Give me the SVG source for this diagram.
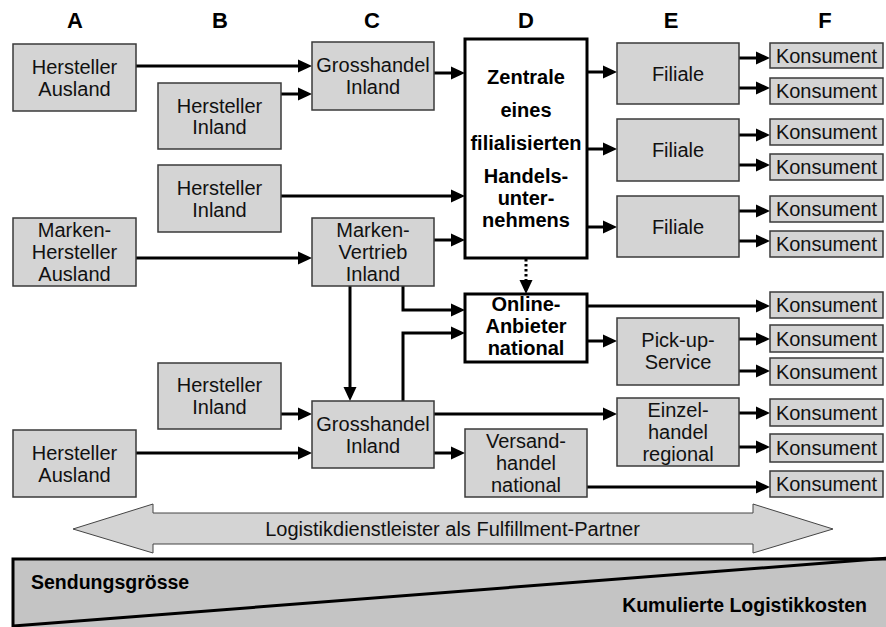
<svg xmlns="http://www.w3.org/2000/svg" width="886" height="627" viewBox="0 0 886 627">
<defs>
<style>
.box{fill:#d4d4d4;stroke:#3a3a3a;stroke-width:1.5}
.bold{fill:#fff;stroke:#000;stroke-width:3}
.t{font-family:"Liberation Sans",Arial,sans-serif;font-size:20px;text-anchor:middle;fill:#111}
.tb{font-family:"Liberation Sans",Arial,sans-serif;font-size:20px;font-weight:bold;text-anchor:middle;fill:#000}
.col{font-family:"Liberation Sans",Arial,sans-serif;font-size:22px;font-weight:bold;text-anchor:middle;fill:#000}
.c{fill:none;stroke:#000;stroke-width:3;marker-end:url(#ah)}
.d{fill:none;stroke:#000;stroke-width:3;stroke-dasharray:2.5 2.5;marker-end:url(#ah)}
.wt{font-family:"Liberation Sans",Arial,sans-serif;font-size:19.5px;font-weight:bold;fill:#000}
</style>
<marker id="ah" markerUnits="userSpaceOnUse" markerWidth="14" markerHeight="14" refX="10" refY="6.5" orient="auto" overflow="visible">
<path d="M0,0 L14,6.5 L0,13 z" fill="#000"/>
</marker>
</defs>
<rect width="886" height="627" fill="#fff"/>

<g id="column-labels">
<text class="col" x="75" y="28">A</text>
<text class="col" x="220" y="28">B</text>
<text class="col" x="372" y="28">C</text>
<text class="col" x="526" y="28">D</text>
<text class="col" x="671" y="28">E</text>
<text class="col" x="825" y="28">F</text>
</g>

<g id="connectors">
<path class="c" d="M136,66 H308"/>
<path class="c" d="M281,94 H308"/>
<path class="c" d="M434,73 H461"/>
<path class="c" d="M587,72 H613"/>
<path class="c" d="M587,149 H613"/>
<path class="c" d="M587,227 H613"/>
<path class="c" d="M739,58 H766"/>
<path class="c" d="M739,88 H766"/>
<path class="c" d="M739,135 H766"/>
<path class="c" d="M739,165 H766"/>
<path class="c" d="M739,211 H766"/>
<path class="c" d="M739,241 H766"/>
<path class="c" d="M281,196 H461"/>
<path class="c" d="M136,258 H308"/>
<path class="c" d="M434,240 H461"/>
<path class="d" d="M526,259 V290"/>
<path class="c" d="M403,286 V310 H461"/>
<path class="c" d="M350,286 V397"/>
<path class="c" d="M403,401 V333 H461"/>
<path class="c" d="M587,306 H766"/>
<path class="c" d="M587,341 H613"/>
<path class="c" d="M739,339 H766"/>
<path class="c" d="M739,371 H766"/>
<path class="c" d="M434,414 H613"/>
<path class="c" d="M739,413 H766"/>
<path class="c" d="M739,447 H766"/>
<path class="c" d="M281,414 H308"/>
<path class="c" d="M136,453 H308"/>
<path class="c" d="M434,453 H461"/>
<path class="c" d="M587,487 H766"/>
</g>

<g id="hersteller-ausland-1"><rect class="box" x="13" y="44" width="123" height="67"/>
<text class="t" x="74.5" y="73.5">Hersteller</text><text class="t" x="74.5" y="95.5">Ausland</text></g>
<g id="hersteller-inland-1"><rect class="box" x="158" y="83" width="123" height="66"/>
<text class="t" x="219.5" y="112.5">Hersteller</text><text class="t" x="219.5" y="134">Inland</text></g>
<g id="grosshandel-inland-1"><rect class="box" x="312" y="42" width="122" height="68"/>
<text class="t" x="373" y="72">Grosshandel</text><text class="t" x="373" y="94">Inland</text></g>
<g id="zentrale"><rect class="bold" x="465" y="39" width="122" height="219"/>
<text class="tb" x="526" y="84">Zentrale</text>
<text class="tb" x="526" y="117">eines</text>
<text class="tb" x="526" y="150">filialisierten</text>
<text class="tb" x="526" y="183">Handels-</text>
<text class="tb" x="526" y="205">unter-</text>
<text class="tb" x="526" y="227">nehmens</text></g>
<g id="filiale-1"><rect class="box" x="617" y="43" width="122" height="61"/><text class="t" x="678" y="80.5">Filiale</text></g>
<g id="filiale-2"><rect class="box" x="617" y="119" width="122" height="62"/><text class="t" x="678" y="157">Filiale</text></g>
<g id="filiale-3"><rect class="box" x="617" y="196" width="122" height="61"/><text class="t" x="678" y="233.5">Filiale</text></g>

<g id="konsument-1"><rect class="box" x="770" y="43" width="113" height="25"/><text class="t" x="826.5" y="62.5">Konsument</text></g>
<g id="konsument-2"><rect class="box" x="770" y="78" width="113" height="26"/><text class="t" x="826.5" y="98">Konsument</text></g>
<g id="konsument-3"><rect class="box" x="770" y="119" width="113" height="26"/><text class="t" x="826.5" y="139">Konsument</text></g>
<g id="konsument-4"><rect class="box" x="770" y="154" width="113" height="26"/><text class="t" x="826.5" y="174">Konsument</text></g>
<g id="konsument-5"><rect class="box" x="770" y="196" width="113" height="26"/><text class="t" x="826.5" y="216">Konsument</text></g>
<g id="konsument-6"><rect class="box" x="770" y="231" width="113" height="26"/><text class="t" x="826.5" y="251">Konsument</text></g>
<g id="konsument-7"><rect class="box" x="770" y="292" width="113" height="26"/><text class="t" x="826.5" y="312">Konsument</text></g>
<g id="konsument-8"><rect class="box" x="770" y="325" width="113" height="27"/><text class="t" x="826.5" y="345.5">Konsument</text></g>
<g id="konsument-9"><rect class="box" x="770" y="358" width="113" height="27"/><text class="t" x="826.5" y="378.5">Konsument</text></g>
<g id="konsument-10"><rect class="box" x="770" y="399" width="113" height="27"/><text class="t" x="826.5" y="419.5">Konsument</text></g>
<g id="konsument-11"><rect class="box" x="770" y="434" width="113" height="28"/><text class="t" x="826.5" y="455">Konsument</text></g>
<g id="konsument-12"><rect class="box" x="770" y="471" width="113" height="26"/><text class="t" x="826.5" y="491">Konsument</text></g>

<g id="hersteller-inland-2"><rect class="box" x="158" y="165" width="123" height="67"/>
<text class="t" x="219.5" y="194.5">Hersteller</text><text class="t" x="219.5" y="216.5">Inland</text></g>
<g id="marken-hersteller-ausland"><rect class="box" x="13" y="218" width="123" height="68"/>
<text class="t" x="74.5" y="237">Marken-</text><text class="t" x="74.5" y="259">Hersteller</text><text class="t" x="74.5" y="281">Ausland</text></g>
<g id="marken-vertrieb-inland"><rect class="box" x="312" y="218" width="122" height="68"/>
<text class="t" x="373" y="237">Marken-</text><text class="t" x="373" y="259">Vertrieb</text><text class="t" x="373" y="281">Inland</text></g>
<g id="online-anbieter"><rect class="bold" x="465" y="294" width="122" height="68"/>
<text class="tb" x="526" y="311">Online-</text><text class="tb" x="526" y="333">Anbieter</text><text class="tb" x="526" y="355">national</text></g>
<g id="pick-up-service"><rect class="box" x="617" y="318" width="122" height="67"/>
<text class="t" x="678" y="347">Pick-up-</text><text class="t" x="678" y="369">Service</text></g>
<g id="einzelhandel-regional"><rect class="box" x="617" y="398" width="122" height="68"/>
<text class="t" x="678" y="416.5">Einzel-</text><text class="t" x="678" y="438.5">handel</text><text class="t" x="678" y="460.5">regional</text></g>
<g id="hersteller-inland-3"><rect class="box" x="158" y="363" width="123" height="66"/>
<text class="t" x="219.5" y="392">Hersteller</text><text class="t" x="219.5" y="414">Inland</text></g>
<g id="hersteller-ausland-2"><rect class="box" x="13" y="430" width="123" height="67"/>
<text class="t" x="74.5" y="459.5">Hersteller</text><text class="t" x="74.5" y="481.5">Ausland</text></g>
<g id="grosshandel-inland-2"><rect class="box" x="312" y="401" width="122" height="67"/>
<text class="t" x="373" y="430.5">Grosshandel</text><text class="t" x="373" y="452.5">Inland</text></g>
<g id="versandhandel-national"><rect class="box" x="465" y="429" width="122" height="68"/>
<text class="t" x="526" y="448">Versand-</text><text class="t" x="526" y="470">handel</text><text class="t" x="526" y="492">national</text></g>

<g id="logistik-arrow">
<polygon points="73,529 153,504 153,513 753,513 753,504 833,529 753,553 753,544 153,544 153,553" fill="#d4d4d4" stroke="#444" stroke-width="1"/>
<text class="t" x="452.5" y="536">Logistikdienstleister als Fulfillment-Partner</text>
</g>

<g id="wedge">
<rect x="13" y="559" width="880" height="75" fill="#c4c4c4"/>
<path d="M13,630 V559 H890" fill="none" stroke="#000" stroke-width="3"/>
<path d="M13,626 L890,558" fill="none" stroke="#000" stroke-width="3"/>
<text class="wt" x="31" y="589">Sendungsgrösse</text>
<text class="wt" x="867" y="612" text-anchor="end">Kumulierte Logistikkosten</text>
</g>
</svg>
